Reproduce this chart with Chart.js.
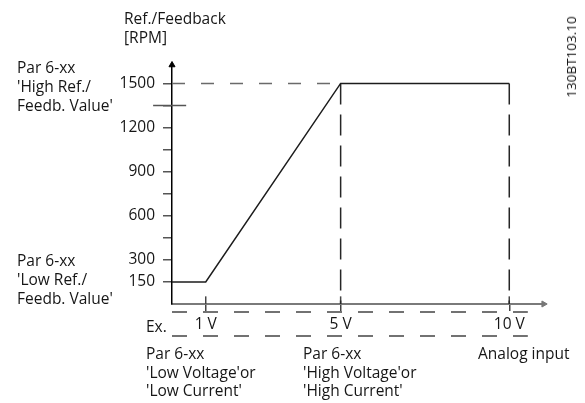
<!DOCTYPE html>
<html>
<head>
<meta charset="utf-8">
<script src="https://cdn.jsdelivr.net/npm/chart.js@4.4.1/dist/chart.umd.min.js"></script>
<style>
  body { margin: 0; background: #fff; }
  #wrap { position: relative; width: 585px; height: 403px; font-family: 'Open Sans', sans-serif; color: #161616; }
  #wrap canvas { position: absolute; left: 0; top: 0; }
  .note { position: absolute; font-size: 15.5px; line-height: 19px; white-space: nowrap; }
  .bottom { line-height: 18.5px; }
  #code { position: absolute; left: 571px; top: 57px; font-size: 13.5px; white-space: nowrap;
          transform: translate(-50%, -50%) rotate(-90deg); }
</style>
</head>
<body>
<div id="wrap">
  <canvas id="refChart" width="585" height="403"></canvas>
  <div class="note" style="left:124px; top:9px">Ref./Feedback<br>[RPM]</div>
  <div class="note" style="left:17px; top:58px">Par 6-xx<br>'High Ref./<br>Feedb. Value'</div>
  <div class="note" style="left:17px; top:251px">Par 6-xx<br>'Low Ref./<br>Feedb. Value'</div>
  <div class="note" style="left:146px; top:317px">Ex.</div>
  <div class="note bottom" style="left:146px; top:344px">Par 6-xx<br>'Low Voltage'or<br>'Low Current'</div>
  <div class="note bottom" style="left:303px; top:344px">Par 6-xx<br>'High Voltage'or<br>'High Current'</div>
  <div class="note bottom" style="left:478px; top:344px">Analog input</div>
  <div id="code">130BT103.10</div>
</div>
<script>
// reference value vs. analog input
const inputVolts = [0, 1, 5, 10];
const refRpm = [150, 150, 1500, 1500];

const rpmTicks = [150, 300, 450, 600, 750, 900, 1050, 1200, 1350, 1500];
const rpmLabels = [150, 300, 600, 900, 1200, 1500];
const voltTicks = [1, 5, 10];

const highVolt = 5, maxVolt = 10;
const highRef = 1500, splitRef = 1350;

const dashGrey = '#6a6a6a';

const line = (data, extra) => Object.assign({
  data: data,
  borderColor: dashGrey,
  borderWidth: 1.5,
  pointRadius: 0,
  fill: false,
  clip: false
}, extra);

const datasets = [
  // the characteristic
  line(inputVolts.map((v, i) => ({x: v, y: refRpm[i]})), {borderColor: '#1c1c1c'}),
  // guide lines at high ref / high voltage / max input
  line([{x: 0, y: highRef}, {x: highVolt, y: highRef}], {borderDash: [13, 16]}),
  line([{x: highVolt, y: highRef}, {x: highVolt, y: 0}], {borderDash: [21, 10], borderColor: '#262626'}),
  line([{x: maxVolt, y: highRef}, {x: maxVolt, y: 0}], {borderDash: [21, 10], borderColor: '#262626'}),
  // break mark on the rpm axis
  line([{x: -0.56, y: splitRef}, {x: 0.42, y: splitRef}], {borderColor: '#555'}),
  // the two rows of the "Ex." band under the input axis
  line([{x: 0, y: -54}, {x: 10.55, y: -54}], {borderDash: [15, 16], borderColor: '#444'}),
  line([{x: 0, y: -217}, {x: 10.55, y: -217}], {borderDash: [15, 16], borderColor: '#444'}),
  // volt ticks poke above the axis
  ...voltTicks.map(v => line([{x: v, y: 0}, {x: v, y: 52}], {borderColor: '#444'})),
  // axis arrow heads
  {
    type: 'scatter',
    data: [{x: 0, y: 1625}],
    pointStyle: 'triangle', pointRadius: 3.5, pointRotation: 0,
    backgroundColor: '#000', borderColor: '#000', borderWidth: 1, clip: false
  },
  {
    type: 'scatter',
    data: [{x: 11.02, y: 0}],
    pointStyle: 'triangle', pointRadius: 3.5, pointRotation: 90,
    backgroundColor: '#777', borderColor: '#777', borderWidth: 1, clip: false
  }
];

Chart.defaults.font.family = "'Open Sans', sans-serif";
Chart.defaults.font.size = 15.5;
Chart.defaults.color = '#161616';

new Chart(document.getElementById('refChart'), {
  type: 'line',
  data: { datasets: datasets },
  options: {
    responsive: false,
    animation: false,
    devicePixelRatio: 1,
    layout: { padding: { left: 0, top: 65, right: 42, bottom: 0 } },
    plugins: { legend: { display: false }, tooltip: { enabled: false } },
    scales: {
      x: {
        type: 'linear',
        min: 0,
        max: 11,
        afterFit: s => { s.height = 99; },
        afterBuildTicks: s => { s.ticks = voltTicks.map(v => ({value: v})); },
        ticks: { callback: v => v + ' V', padding: 4, maxRotation: 0 },
        grid: { drawOnChartArea: false, tickLength: 7, color: '#444', lineWidth: 1.5 },
        border: { color: '#7a7a7a', width: 2 }
      },
      y: {
        min: 0,
        max: 1625,
        afterFit: s => { s.width = 172; },
        afterBuildTicks: s => { s.ticks = rpmTicks.map(v => ({value: v})); },
        ticks: {
          callback: v => rpmLabels.includes(v) ? String(v) : '',
          padding: 8
        },
        grid: { drawOnChartArea: false, tickLength: 9, color: '#555', lineWidth: 1.5 },
        border: { color: '#000', width: 1.5 }
      }
    }
  }
});
</script>
</body>
</html>
